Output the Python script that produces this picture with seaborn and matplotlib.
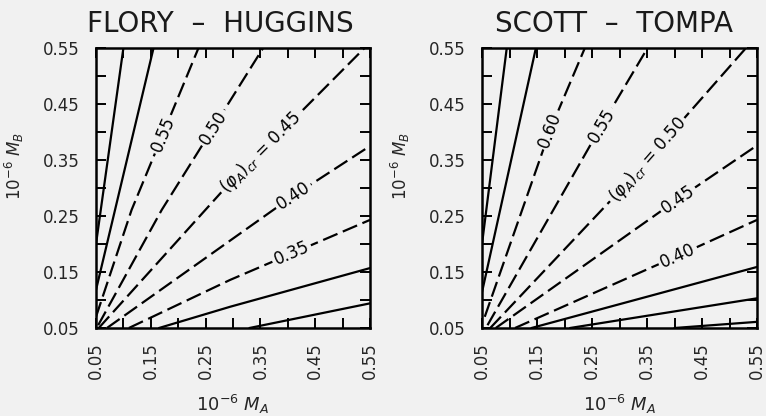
import numpy as np
import pandas as pd
import matplotlib
matplotlib.use("Agg")
import matplotlib.pyplot as plt
import seaborn as sns

# ---------------- data ----------------
# Flory-Huggins panel: contour lines of (phi_A)_cr in the (M_A, M_B) plane
FH_VALUES = [0.65, 0.60, 0.55, 0.50, 0.45, 0.40, 0.35, 0.30, 0.25]
FH_LABELED = [False, False, True, True, True, True, True, False, False]
FH_X = [
    [0.050, 0.100],
    [0.050, 0.155],
    [0.050, 0.115, 0.237],
    [0.054, 0.170, 0.355],
    [0.055, 0.282, 0.540],
    [0.070, 0.404, 0.550],
    [0.110, 0.295, 0.550],
    [0.165, 0.295, 0.550],
    [0.330, 0.550],
]
FH_Y = [
    [0.200, 0.550],
    [0.118, 0.550],
    [0.070, 0.261, 0.550],
    [0.055, 0.261, 0.550],
    [0.050, 0.296, 0.550],
    [0.050, 0.282, 0.375],
    [0.050, 0.136, 0.243],
    [0.050, 0.088, 0.157],
    [0.050, 0.094],
]
FH_LABEL_TEXT = ["0.55", "0.50", r"$(\varphi_A)_{cr}$ = 0.45", "0.40", "0.35"]
FH_LABEL_X = [0.172, 0.264, 0.350, 0.410, 0.407]

# Scott-Tompa panel
ST_VALUES = [0.70, 0.65, 0.60, 0.55, 0.50, 0.45, 0.40, 0.35, 0.30, 0.25]
ST_LABELED = [False, False, True, True, True, True, True, False, False, False]
ST_X = [
    [0.050, 0.095],
    [0.050, 0.148],
    [0.055, 0.174, 0.237],
    [0.060, 0.267, 0.351],
    [0.065, 0.315, 0.530],
    [0.075, 0.406, 0.550],
    [0.110, 0.406, 0.550],
    [0.140, 0.550],
    [0.210, 0.550],
    [0.400, 0.550],
]
ST_Y = [
    [0.200, 0.550],
    [0.114, 0.550],
    [0.070, 0.404, 0.550],
    [0.055, 0.411, 0.550],
    [0.050, 0.310, 0.550],
    [0.050, 0.280, 0.376],
    [0.050, 0.179, 0.243],
    [0.050, 0.159],
    [0.050, 0.103],
    [0.050, 0.061],
]
ST_LABEL_TEXT = ["0.60", "0.55", r"$(\varphi_A)_{cr}$ = 0.50", "0.45", "0.40"]
ST_LABEL_X = [0.174, 0.267, 0.351, 0.406, 0.406]

TICKS_MAJOR = [0.05, 0.15, 0.25, 0.35, 0.45, 0.55]
TICKS_MINOR = [0.10, 0.20, 0.30, 0.40, 0.50]
TICK_LABELS = ["0.05", "0.15", "0.25", "0.35", "0.45", "0.55"]

TITLES = ["FLORY  –  HUGGINS", "SCOTT  –  TOMPA"]

# ---------------- drawing ----------------
sns.set_theme(style="ticks")
plt.rcParams["font.family"] = ["DejaVu Sans"]
plt.rcParams["mathtext.fontset"] = "dejavusans"

BG = "#f1f1f1"
fig = plt.figure(figsize=(7.66, 4.16), dpi=100, facecolor=BG)
ax1 = fig.add_axes([96 / 766, 88 / 416, 274 / 766, 280 / 416])
ax2 = fig.add_axes([482 / 766, 88 / 416, 275 / 766, 280 / 416])


def draw_panel(ax, values, labeled, xs, ys, label_text, label_x, title,
               title_x, ylab_x):
    ax.set_facecolor(BG)
    rows = []
    for i, (v, xx, yy) in enumerate(zip(values, xs, ys)):
        for a, b in zip(xx, yy):
            rows.append({"line": i, "x": a, "y": b, "level": v,
                         "kind": "dashed" if labeled[i] else "solid"})
    df = pd.DataFrame(rows)
    for i in df["line"].unique():
        sub = df[df["line"] == i]
        dashed = sub["kind"].iloc[0] == "dashed"
        sns.lineplot(data=sub, x="x", y="y", ax=ax, color="black", lw=1.6,
                     sort=False, estimator=None, legend=False, dashes=False)
        if dashed:
            ax.lines[-1].set_dashes([7, 2.6])
    ax.set_xlim(0.05, 0.55)
    ax.set_ylim(0.05, 0.55)
    ax.set_xticks(TICKS_MAJOR)
    ax.set_yticks(TICKS_MAJOR)
    ax.set_xticks(TICKS_MINOR, minor=True)
    ax.set_yticks(TICKS_MINOR, minor=True)
    ax.set_xticklabels(TICK_LABELS, rotation=90, fontsize=12)
    ax.set_yticklabels(TICK_LABELS, fontsize=12)
    for which in ("major", "minor"):
        ax.tick_params(which=which, direction="in", length=7, width=1.4,
                       top=True, right=True, color="black")
    ax.tick_params(axis="x", which="major", pad=10)
    ax.tick_params(axis="y", which="major", pad=12)
    for s in ax.spines.values():
        s.set_linewidth(1.8)
        s.set_color("black")
        s.set_visible(True)
    ax.set_xlabel(r"$10^{-6}\ M_A$", fontsize=13)
    ax.set_ylabel(r"$10^{-6}\ M_B$", fontsize=12)
    ax.xaxis.set_label_coords(0.5, -0.232)
    ax.yaxis.set_label_coords(ylab_x, 0.58)
    ax.text(title_x, 1.057, title, transform=ax.transAxes, ha="center",
            va="baseline", fontsize=20, color="#1a1a1a")

    # contour labels, placed on their lines
    fig.canvas.draw()
    lab_idx = [i for i, f in enumerate(labeled) if f]
    for txt, lx, i in zip(label_text, label_x, lab_idx):
        xx = np.array(xs[i]); yy = np.array(ys[i])
        ly = np.interp(lx, xx, yy)
        p0 = ax.transData.transform((lx - 0.01, np.interp(lx - 0.01, xx, yy)))
        p1 = ax.transData.transform((lx + 0.01, np.interp(lx + 0.01, xx, yy)))
        ang = np.degrees(np.arctan2(p1[1] - p0[1], p1[0] - p0[0]))
        ax.text(lx, ly, txt, rotation=ang, rotation_mode="anchor",
                ha="center", va="center", fontsize=12, color="black",
                bbox=dict(boxstyle="square,pad=0.15", fc=BG, ec="none"),
                zorder=5)


draw_panel(ax1, FH_VALUES, FH_LABELED, FH_X, FH_Y, FH_LABEL_TEXT, FH_LABEL_X,
           TITLES[0], 0.453, -0.255)
draw_panel(ax2, ST_VALUES, ST_LABELED, ST_X, ST_Y, ST_LABEL_TEXT, ST_LABEL_X,
           TITLES[1], 0.480, -0.255)

fig.savefig("out.png", dpi=100, facecolor=BG)
